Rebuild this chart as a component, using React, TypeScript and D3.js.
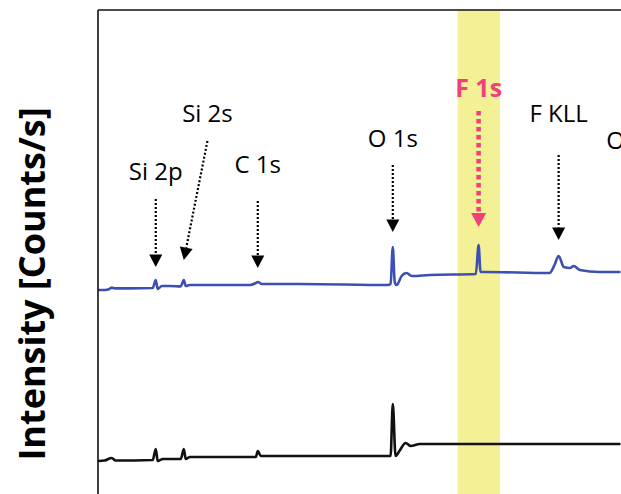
import * as d3 from 'd3';
import React from 'react';

type Pt = [number, number];

// binding energy (eV), intensity (arb. units)
const blueSpectrum: Pt[] = [
  [-5, 102], [7, 102], [16, 102.5], [20, 103.2], [25.5, 102.8], [53, 102.8],
  [94.5, 103], [100, 107], [103.6, 102.5], [111, 104], [125.5, 104], [145.5, 103.8],
  [151, 107], [154.5, 104], [162, 104.5], [271, 104.5], [282, 105.5], [285.5, 106],
  [293, 105], [362, 105], [522, 104.5], [527, 105], [531, 123.5], [534.5, 106],
  [538, 104.5], [547, 109], [556, 110.5], [565.5, 109], [598, 109.5], [682, 110],
  [687, 124.5], [690.5, 111], [698, 111], [816, 110.5], [825, 114.5], [832.5, 119],
  [842, 113.5], [853, 113], [860, 114], [871, 112], [907, 111], [945, 111],
];

const blackSpectrum: Pt[] = [
  [-5, 16.5], [7, 16.75], [20, 18], [27, 16.75], [94.5, 17], [100, 22.5],
  [103.6, 16.5], [113, 17.5], [145.5, 17.5], [151, 22.5], [154.5, 17.5], [162, 18.5],
  [282, 18.5], [285.5, 21.5], [291, 19], [362, 19], [527, 19], [531, 45],
  [536, 19], [543, 21.5], [554.5, 25.5], [563.5, 24], [580, 25], [945, 25],
];

const peakLabels = ['Si 2p', 'Si 2s', 'C 1s', 'O 1s', 'F 1s', 'F KLL', 'O KLL'];
const peakEnergies = [100, 151, 285.5, 531, 687, 832.5, 978];
const highlightBand = [649, 726];
const yTitle = 'Intensity [Counts/s]';

const W = 621;
const H = 494;
const left = 98;
const top = 10;

// annotation layout in data units: [labelY, tailY, tipY, tailDx(eV)]
const annLayout: Record<string, [number, number, number, number]> = {
  'Si 2p': [157, 147.5, 113.5, 0],
  'Si 2s': [186, 176.5, 117, 43],
  'C 1s': [160.5, 146.5, 113, 0],
  'O 1s': [173.5, 164.5, 131, 0],
  'F 1s': [198.5, 191.5, 133.5, 0],
  'F KLL': [186, 169.5, 127, 0],
  'O KLL': [172.5, 160, 127, 0],
};

const App: React.FC = () => {
  const x = d3.scaleLinear().domain([-5, 1100]).range([left, left + 1105 * 0.55]);
  const y = d3.scaleLinear().domain([0, 242]).range([H, top]);

  const line = d3.line<Pt>()
    .x(d => x(d[0]))
    .y(d => y(d[1]))
    .curve(d3.curveMonotoneX);

  const font = "'Open Sans', sans-serif";

  return (
    <svg width={W} height={H} style={{ position: 'absolute', left: 0, top: 0 }}>
      <rect x={0} y={0} width={W} height={H} fill="#fff" />
      <rect
        x={x(highlightBand[0])}
        y={top}
        width={x(highlightBand[1]) - x(highlightBand[0])}
        height={H - top}
        fill="#f4f095"
      />
      <path d={line(blackSpectrum) ?? ''} fill="none" stroke="#111" strokeWidth={2.6} />
      <path d={line(blueSpectrum) ?? ''} fill="none" stroke="#3b50b2" strokeWidth={2.6} />

      {peakLabels.map((lab, i) => {
        const [ly, tailY, tipY, dx] = annLayout[lab];
        const pink = lab === 'F 1s';
        const col = pink ? '#f2407d' : '#000';
        const tx = x(peakEnergies[i] + dx);
        const tipX = x(peakEnergies[i]);
        const tip = y(tipY);
        const tail = y(tailY);
        const ang = Math.atan2(tip - tail, tipX - tx);
        const hl = pink ? 14 : 12.5;
        const hw = pink ? 7.5 : 6.5;
        const bx = tipX - hl * Math.cos(ang);
        const by = tip - hl * Math.sin(ang);
        const px = -Math.sin(ang);
        const py = Math.cos(ang);
        return (
          <g key={lab}>
            <text
              x={tx}
              y={y(ly)}
              textAnchor="middle"
              fontFamily={font}
              fontSize={pink ? 25 : 24}
              fontWeight={pink ? 700 : 400}
              fill={col}
            >
              {lab}
            </text>
            <line
              x1={tx}
              y1={tail}
              x2={bx}
              y2={by}
              stroke={col}
              strokeWidth={pink ? 4.5 : 2.2}
              strokeDasharray={pink ? '4.5 3.5' : '2 2'}
            />
            <path
              d={`M${tipX},${tip}L${bx + px * hw},${by + py * hw}L${bx - px * hw},${by - py * hw}Z`}
              fill={col}
            />
          </g>
        );
      })}

      <line x1={left} y1={top} x2={W} y2={top} stroke="#111" strokeWidth={1.6} />
      <line x1={left} y1={top} x2={left} y2={H} stroke="#111" strokeWidth={1.6} />

      <text
        transform={`translate(45,${(103 + 465) / 2}) rotate(-90)`}
        textAnchor="middle"
        fontFamily={font}
        fontSize={36}
        fontWeight={700}
        fill="#000"
      >
        {yTitle}
      </text>
    </svg>
  );
};

export default App;
